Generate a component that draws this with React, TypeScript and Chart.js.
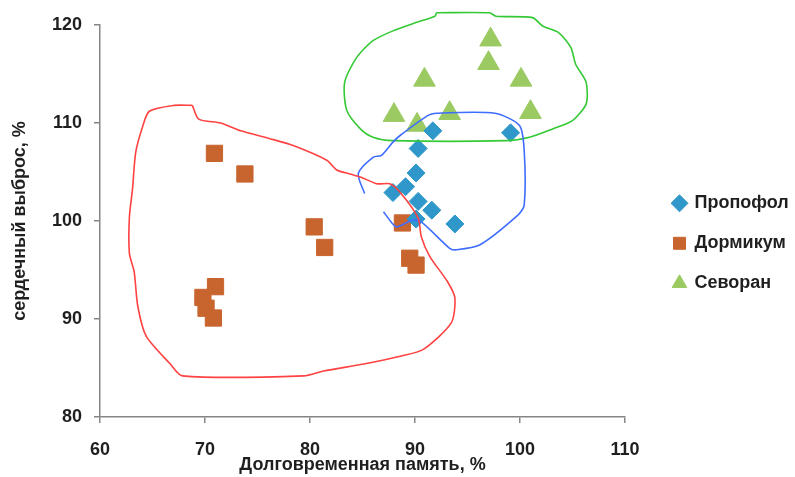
import React, { useEffect, useRef } from "react";
import { Chart, registerables } from "chart.js";

Chart.register(...registerables);

// ---- Data ----
const propofolX = [91.7, 99.1, 90.3, 90.1, 89.1, 87.9, 90.3, 91.6, 93.8, 90.1];
const propofolY = [109.2, 109.0, 107.4, 104.9, 103.5, 102.9, 102.0, 101.1, 99.7, 100.2];

const dormicumX = [70.9, 73.8, 80.4, 81.4, 88.8, 89.5, 90.1, 71.0, 69.8, 70.1, 70.8];
const dormicumY = [106.9, 104.8, 99.4, 97.3, 99.8, 96.2, 95.5, 93.3, 92.2, 91.1, 90.1];

const sevoranX = [97.2, 97.0, 90.9, 100.1, 88.0, 93.3, 101.0, 90.2];
const sevoranY = [118.5, 116.1, 114.4, 114.4, 110.8, 111.0, 111.1, 109.8];

// hand-drawn outlines (data coordinates)
const redOutlineX = [68.8, 67.05, 64.7, 64.05, 63.4, 63.1, 62.8, 62.8, 63.25, 63.6, 64.4, 66.7, 67.85, 79.4, 81.3, 85.1, 88.6, 90.8, 93.45, 93.8, 93.1, 91.4, 90.6, 90.3, 88.6, 87.6, 86.35, 84.8, 83.8, 82.55, 81.6, 78.4, 76.2, 73.4, 71.5, 69.4, 68.8];
const redOutlineY = [111.8, 111.8, 111.2, 109.6, 107.0, 103.3, 100.4, 96.7, 94.85, 91.3, 88.25, 85.4, 84.2, 84.2, 84.7, 85.4, 86.2, 86.9, 89.6, 92.15, 93.8, 96.4, 98.4, 100.3, 102.9, 103.8, 103.8, 104.5, 104.8, 105.2, 106.2, 107.7, 108.4, 109.2, 110.0, 110.4, 111.8];

const blueOutlineX = [85.2, 84.6, 86.0, 86.8, 87.9, 88.55, 91.2, 92.0, 97.6, 99.95, 100.4, 100.4, 99.8, 96.15, 93.8, 93.3, 90.6, 89.8, 88.25, 87.8, 87.0];
const blueOutlineY = [102.8, 104.85, 106.5, 106.7, 108.05, 108.7, 110.75, 111.0, 111.0, 109.75, 107.2, 101.6, 100.6, 97.55, 97.05, 97.2, 99.9, 100.1, 99.4, 99.8, 100.95];

const greenOutlineX = [92.04, 97.1, 97.7, 101.2, 102.15, 103.7, 104.85, 105.3, 106.3, 106.3, 105.0, 103.1, 100.9, 98.7, 87.9, 86.0, 84.8, 83.5, 83.3, 84.45, 86.0, 87.9, 90.1, 91.9, 92.04];
const greenOutlineY = [121.25, 121.25, 120.9, 120.75, 119.9, 119.2, 117.7, 116.0, 114.15, 111.95, 110.25, 109.4, 108.55, 108.2, 108.2, 108.55, 109.4, 111.3, 114.15, 116.7, 118.4, 119.4, 120.25, 120.9, 121.25];

const seriesNames = ["Пропофол", "Дормикум", "Севоран"];
const xTitle = "Долговременная память, %";
const yTitle = "сердечный выброс, %";
const xMin = 60, xMax = 110, xStep = 10;
const yMin = 80, yMax = 120, yStep = 10;

const zip = (xs: number[], ys: number[]) => xs.map((x, i) => ({ x, y: ys[i] }));

const FONT = "'Liberation Sans', Arial, sans-serif";
const TEXT = "#1f1f1f";
const AXIS = "#868686";

const legendPlace = {
  id: "legendPlace",
  beforeLayout(chart: any) {
    const lg = chart.legend;
    if (lg && !lg.__wrapped) {
      const orig = lg.fit.bind(lg);
      lg.fit = function () {
        orig();
        this.width = 170;
      };
      lg.__wrapped = true;
    }
  },
  afterLayout(chart: any) {
    const lg = chart.legend;
    if (lg) {
      lg.left = 651.5;
      lg.right = 795;
      lg.top = 172.3;
      lg.bottom = 477;
    }
  },
};

export default function App() {
  const ref = useRef<HTMLCanvasElement | null>(null);
  useEffect(() => {
    document.body.style.margin = "0";
    if (!ref.current) return;
    const outline = (label: string, xs: number[], ys: number[], color: string) => ({
      label,
      data: zip(xs, ys),
      showLine: true,
      borderColor: color,
      backgroundColor: color,
      borderWidth: 1.6,
      pointRadius: 0,
      pointHoverRadius: 0,
      tension: 0.25,
      fill: false,
      clip: false as any,
    });
    const chart = new Chart(ref.current, {
      type: "scatter",
      data: {
        datasets: [
          outline("__red", redOutlineX, redOutlineY, "#ff4242"),
          outline("__blue", blueOutlineX, blueOutlineY, "#3f6dff"),
          outline("__green", greenOutlineX, greenOutlineY, "#35c935"),
          {
            label: seriesNames[0],
            data: zip(propofolX, propofolY),
            pointStyle: "rectRot",
            pointRadius: 9,
            backgroundColor: "#2f97c9",
            borderColor: "#2f97c9",
            borderWidth: 1,
          },
          {
            label: seriesNames[1],
            data: zip(dormicumX, dormicumY),
            pointStyle: "rect",
            pointRadius: 11.5,
            backgroundColor: "#c8652f",
            borderColor: "#c8652f",
            borderWidth: 1,
          },
          {
            label: seriesNames[2],
            data: zip(sevoranX, sevoranY),
            pointStyle: "triangle",
            pointRadius: 12.5,
            backgroundColor: "#9bca62",
            borderColor: "#9bca62",
            borderWidth: 1,
          },
        ],
      },
      options: {
        animation: false,
        responsive: false,
        devicePixelRatio: 1,
        layout: { padding: { top: 25, left: 0, right: 0, bottom: 0 } },
        plugins: {
          tooltip: { enabled: false },
          legend: {
            position: "right",
            align: "start",
            labels: {
              usePointStyle: true,
              boxWidth: 12,
              boxHeight: 12,
              padding: 22,
              color: TEXT,
              font: { family: FONT, size: 18, weight: "bold" },
              filter: (item: any) => !String(item.text).startsWith("__"),
            },
          },
        },
        scales: {
          x: {
            type: "linear",
            min: xMin,
            max: xMax,
            afterFit: (s: any) => { s.height = 60; },
            ticks: {
              stepSize: xStep,
              padding: 16,
              color: TEXT,
              font: { family: FONT, size: 18, weight: "bold" },
            },
            grid: { drawOnChartArea: false, drawTicks: true, tickLength: 6, color: AXIS, lineWidth: 1.5 },
            border: { display: true, color: AXIS, width: 1.5 },
            title: {
              display: true,
              text: xTitle,
              color: TEXT,
              font: { family: FONT, size: 18, weight: "bold" },
              padding: { top: 0, bottom: 1 },
            },
          },
          y: {
            type: "linear",
            min: yMin,
            max: yMax,
            afterFit: (s: any) => { s.width = 100; },
            ticks: {
              stepSize: yStep,
              padding: 12,
              color: TEXT,
              font: { family: FONT, size: 18, weight: "bold" },
            },
            grid: { drawOnChartArea: false, drawTicks: true, tickLength: 6, color: AXIS, lineWidth: 1.5 },
            border: { display: true, color: AXIS, width: 1.5 },
            title: {
              display: true,
              text: yTitle,
              color: TEXT,
              font: { family: FONT, size: 18, weight: "bold" },
              padding: { top: 9, bottom: 0 },
            },
          },
        },
      },
      plugins: [legendPlace],
    } as any);
    return () => chart.destroy();
  }, []);
  return (
    <div style={{ width: 795, height: 477 }}>
      <canvas ref={ref} width={795} height={477} style={{ display: "block" }} />
    </div>
  );
}
